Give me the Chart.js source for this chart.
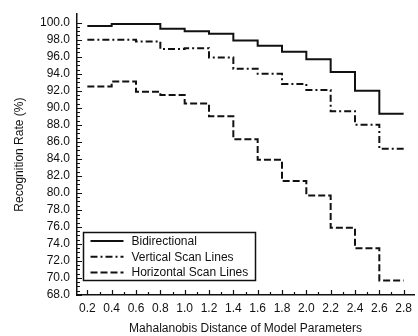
<!DOCTYPE html>
<html>
<head>
<meta charset="utf-8">
<script src="https://cdn.jsdelivr.net/npm/chart.js@4.4.1/dist/chart.umd.min.js"></script>
<style>
  html, body { margin: 0; padding: 0; background: #fff; }
  #wrap { width: 418px; height: 336px; }
</style>
</head>
<body>
<div id="wrap"><canvas id="rateChart"></canvas></div>
<script>
// distances (x) and recognition rates, each value held until the next distance
const distances = [0.2, 0.4, 0.6, 0.8, 1.0, 1.2, 1.4, 1.6, 1.8, 2.0, 2.2, 2.4, 2.6, 2.8];
const bidirectional = [99.6, 99.85, 99.85, 99.3, 99.0, 98.7, 97.9, 97.3, 96.6, 95.7, 94.2, 92.0, 89.3, 89.3];
const verticalScan = [98.0, 98.0, 97.8, 96.9, 97.0, 95.9, 94.6, 94.0, 92.8, 92.1, 89.6, 88.0, 85.2, 85.2];
const horizontalScan = [92.5, 93.1, 91.9, 91.5, 90.5, 89.0, 86.3, 83.9, 81.4, 79.7, 75.9, 73.5, 69.7, 69.7];
const seriesNames = ['Bidirectional', 'Vertical Scan Lines', 'Horizontal Scan Lines'];
const yTicks = [68, 70, 72, 74, 76, 78, 80, 82, 84, 86, 88, 90, 92, 94, 96, 98, 100];
const xTicks = [0.2, 0.4, 0.6, 0.8, 1.0, 1.2, 1.4, 1.6, 1.8, 2.0, 2.2, 2.4, 2.6, 2.8];

const ink = '#111';
const font = { family: 'Liberation Sans, Arial, sans-serif', size: 12 };

function pts(vals) {
    return vals.map((v, i) => ({ x: distances[i], y: v }));
}

// inward tick marks (major + minor) and the boxed legend
const paperStyle = {
    id: 'paperStyle',
    afterDraw(chart) {
        const ctx = chart.ctx;
        const xs = chart.scales.x, ys = chart.scales.y;
        const area = chart.chartArea;
        ctx.save();
        ctx.strokeStyle = ink;
        ctx.lineWidth = 1.2;
        ctx.beginPath();
        for (let v = 68; v <= 100.001; v += 0.5) {
            const y = Math.round(ys.getPixelForValue(v)) + 0.5;
            const major = Math.abs(v / 2 - Math.round(v / 2)) < 1e-6;
            ctx.moveTo(area.left, y);
            ctx.lineTo(area.left + (major ? 5 : 3), y);
        }
        for (let v = 0.2; v <= 2.8001; v += 0.1) {
            const x = Math.round(xs.getPixelForValue(v)) + 0.5;
            const major = Math.abs(v * 5 - Math.round(v * 5)) < 1e-6;
            ctx.moveTo(x, area.bottom);
            ctx.lineTo(x, area.bottom - (major ? 5 : 3));
        }
        ctx.stroke();

        // legend
        const bx = 83.5, by = 232.5, bw = 172, bh = 48;
        ctx.fillStyle = '#fff';
        ctx.fillRect(bx, by, bw, bh);
        ctx.lineWidth = 1.5;
        ctx.strokeRect(bx, by, bw, bh);
        ctx.font = font.size + 'px ' + font.family;
        ctx.textBaseline = 'middle';
        chart.data.datasets.forEach((ds, i) => {
            const ly = by + 8.5 + i * 15.8;
            ctx.setLineDash(ds.borderDash || []);
            ctx.lineWidth = ds.borderWidth;
            ctx.beginPath();
            ctx.moveTo(bx + 7, ly);
            ctx.lineTo(bx + 40, ly);
            ctx.stroke();
            ctx.setLineDash([]);
            ctx.fillStyle = ink;
            ctx.fillText(ds.label, bx + 48, ly + 0.5);
        });
        ctx.restore();
    }
};

const rateChart = new Chart(document.getElementById('rateChart'), {
    type: 'line',
    data: {
        datasets: [
            { label: seriesNames[0], data: pts(bidirectional), borderColor: ink, borderWidth: 2, stepped: 'before' },
            { label: seriesNames[1], data: pts(verticalScan), borderColor: ink, borderWidth: 2, borderDash: [7, 3, 2, 3], stepped: 'before' },
            { label: seriesNames[2], data: pts(horizontalScan), borderColor: ink, borderWidth: 2, borderDash: [7, 3], stepped: 'before' }
        ]
    },
    options: {
        responsive: true,
        maintainAspectRatio: false,
        animation: false,
        layout: { padding: { top: 3, right: 0, left: 0, bottom: 0 } },
        elements: { point: { radius: 0 }, line: { fill: false } },
        plugins: { legend: { display: false }, tooltip: { enabled: false } },
        scales: {
            x: {
                type: 'linear',
                min: 0.115,
                max: 2.885,
                afterBuildTicks: (s) => { s.ticks = xTicks.map(v => ({ value: v })); },
                afterFit: (s) => { s.height = 41; },
                grid: { display: false, drawTicks: false },
                border: { display: true, color: ink, width: 1.5 },
                ticks: { color: ink, font: font, padding: 6, maxRotation: 0, autoSkip: false,
                    callback: (v) => Number(v).toFixed(1) },
                title: { display: true, text: 'Mahalanobis Distance of Model Parameters', color: ink, font: font, padding: { top: 2, bottom: 0 } }
            },
            y: {
                min: 68,
                max: 101,
                afterBuildTicks: (s) => { s.ticks = yTicks.map(v => ({ value: v })); },
                afterFit: (s) => { s.width = 77; },
                grid: { display: false, drawTicks: false },
                border: { display: true, color: ink, width: 1.5 },
                ticks: { color: ink, font: font, padding: 7, autoSkip: false,
                    callback: (v) => Number(v).toFixed(1) },
                title: { display: true, text: 'Recognition Rate (%)', color: ink, font: font, padding: { top: 12, bottom: 0 } }
            }
        }
    },
    plugins: [paperStyle]
});
</script>
</body>
</html>
